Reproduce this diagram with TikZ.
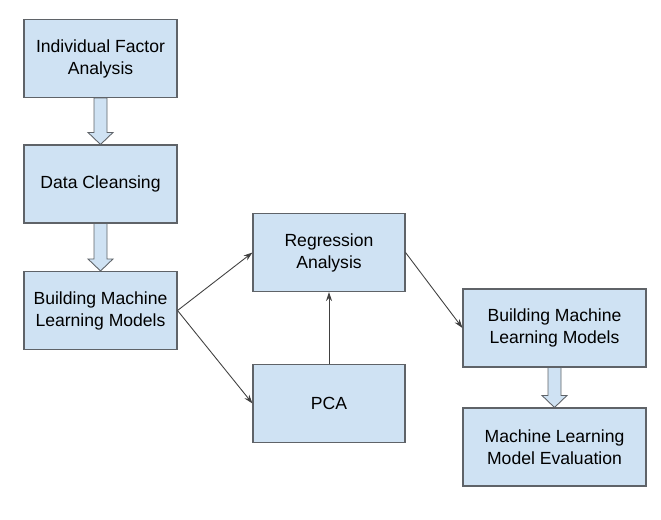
\documentclass[tikz,border=0pt]{standalone}
\usepackage{fontspec}
\setmainfont{Liberation Sans}
\usetikzlibrary{arrows.meta,calc}

\definecolor{boxfill}{HTML}{CFE2F3}
\definecolor{boxline}{HTML}{5F6368}

% wide hollow arrow between two stacked boxes
\newcommand{\blockarrow}[2]{%
	\draw[blockarrow] let \p1=(#1.south), \p2=(#2.north) in
		({\x1-0.13cm},\y1) -- ({\x1-0.13cm},{\y2+0.24cm}) -- ({\x1-0.25cm},{\y2+0.24cm})
		-- (\x1,\y2) -- ({\x1+0.25cm},{\y2+0.24cm}) -- ({\x1+0.13cm},{\y2+0.24cm})
		-- ({\x1+0.13cm},\y1) -- cycle;
}

\begin{document}
\begin{tikzpicture}[
	stage/.style={
		rectangle,
		draw=boxline,
		line width=0.6pt,
		fill=boxfill,
		align=center,
		inner sep=0pt,
		minimum height=1.56cm,
		minimum width=3.06cm,
		font=\fontsize{10}{12.5}\selectfont
	},
	widestage/.style={
		stage,
		minimum width=3.66cm
	},
	link/.style={
		-{Stealth[length=1.8mm,width=1.2mm]},
		line width=0.5pt,
		draw=black!75
	},
	blockarrow/.style={
		draw=boxline,
		line width=0.5pt,
		fill=boxfill
	},
]

\useasboundingbox (0,0) rectangle (13.22,10.38);

%% Nodes %%
% left column %
\node[stage] (factor) at (2.01, 9.21) {Individual Factor\\Analysis};
\node[stage] (clean) at (2.01, 6.70) {Data Cleansing};
\node[stage] (build) at (2.01, 4.17) {Building Machine\\Learning Models};

% middle column %
\node[stage, minimum width=3.04cm] (regr) at (6.58, 5.33) {Regression\\Analysis};
\node[stage, minimum width=3.04cm] (pca) at (6.58, 2.31) {PCA};

% right column %
\node[widestage] (rebuild) at (11.09, 3.82) {Building Machine\\Learning Models};
\node[widestage] (eval) at (11.09, 1.44) {Machine Learning\\Model Evaluation};

%% Connection arrows %%
% block arrows %
\blockarrow{factor}{clean}
\blockarrow{clean}{build}
\blockarrow{rebuild}{eval}

% thin arrows %
\draw[link] (build.east) -- (regr.west);
\draw[link] (build.east) -- (pca.west);
\draw[link] (pca.north) -- (regr.south);
\draw[link] (regr.east) -- (rebuild.west);

\end{tikzpicture}
\end{document}
